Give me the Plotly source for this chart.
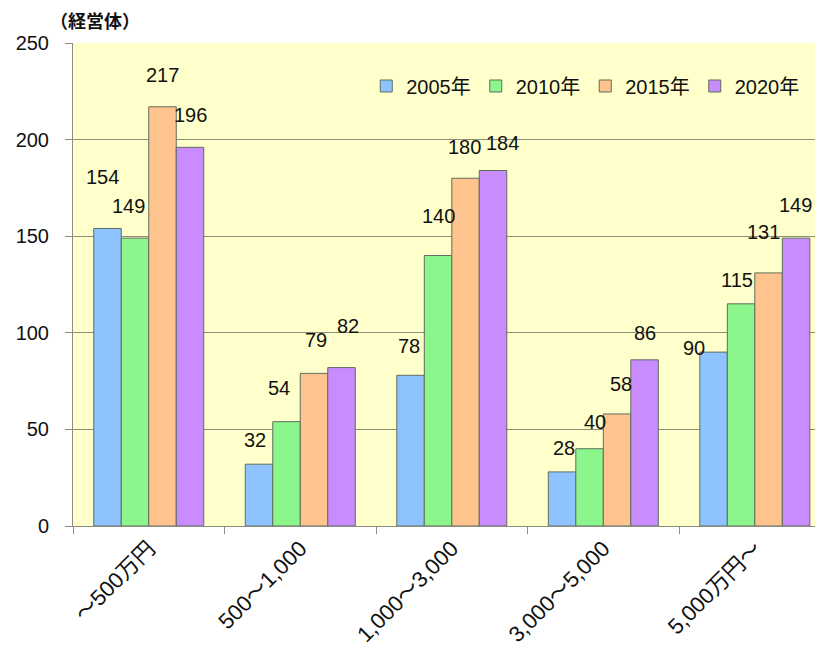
import plotly.graph_objects as go

categories = ["～500万円", "500～1,000", "1,000～3,000", "3,000～5,000", "5,000万円～"]
series_names = ["2005年", "2010年", "2015年", "2020年"]
values_2005 = [154, 32, 78, 28, 90]
values_2010 = [149, 54, 140, 40, 115]
values_2015 = [217, 79, 180, 58, 131]
values_2020 = [196, 82, 184, 86, 149]
y_ticks = [0, 50, 100, 150, 200, 250]

# label placement tweaks (pixels), per series then category -- styling only
label_dx = [
    [-5, -4, -2, 2, -20],
    [-7, -8, 0, 5, -4],
    [0, 2, -1, 4, -5],
    [0, 6, 9, 0, -1],
]
label_dy = [
    [51, 24, 29, 24, 4],
    [32, 34, 40, 27, 24],
    [32, 33, 31, 30, 41],
    [32, 42, 28, 27, 33],
]

colors = ["#8EC3FF", "#8CF58C", "#FFC48E", "#C98CFF"]
all_values = [values_2005, values_2010, values_2015, values_2020]

FONT = "Liberation Sans, Arial, Noto Sans CJK JP, sans-serif"

fig = go.Figure()
for name, vals, col in zip(series_names, all_values, colors):
    fig.add_trace(go.Bar(
        x=categories, y=vals, name=name,
        marker=dict(color=col, line=dict(color="#5E6E5E", width=1)),
    ))

# data labels above bars
bar_px = 27.5
for i, vals in enumerate(all_values):
    for j, (c, v) in enumerate(zip(categories, vals)):
        fig.add_annotation(
            x=c, y=v, text=str(v), showarrow=False,
            xshift=(i - 1.5) * bar_px + label_dx[i][j], yshift=label_dy[i][j],
            yanchor="middle", xanchor="center",
            font=dict(family=FONT, size=20, color="#111111"),
        )

fig.add_annotation(
    xref="paper", yref="paper", x=-0.034, y=1.048,
    text="<b>（経営体）</b>", showarrow=False, xanchor="left", yanchor="middle",
    font=dict(family="Noto Sans CJK JP", size=18, color="#111111"),
)

fig.update_layout(
    width=815, height=654,
    margin=dict(l=65, r=0, t=35, b=136),
    paper_bgcolor="white", plot_bgcolor="#FFFFCC",
    barmode="group", bargap=0.274, bargroupgap=0,
    font=dict(family=FONT, size=20, color="#111111"),
    legend=dict(
        orientation="h", x=0.975, xanchor="right", y=0.911, yanchor="middle",
        bgcolor="rgba(0,0,0,0)", font=dict(size=20, family=FONT),
        itemwidth=30, tracegroupgap=0,
    ),
    showlegend=True,
)
fig.update_xaxes(
    type="category", range=[-0.5, 4.45], tickangle=-45,
    showline=True, linecolor="#8C8C80", linewidth=1,
    ticks="outside", tickson="boundaries", ticklen=7, tickcolor="#8C8C80",
    showgrid=False, tickfont=dict(size=22),
)
fig.update_yaxes(
    range=[0, 250], tickvals=y_ticks,
    showline=True, linecolor="#8C8C80", linewidth=1,
    ticks="outside", ticklen=7, tickcolor="#8C8C80", ticklabelstandoff=12,
    showgrid=True, gridcolor="#8C8C78", gridwidth=1, zeroline=False,
    tickfont=dict(size=20),
)

fig.write_html("out.html")
